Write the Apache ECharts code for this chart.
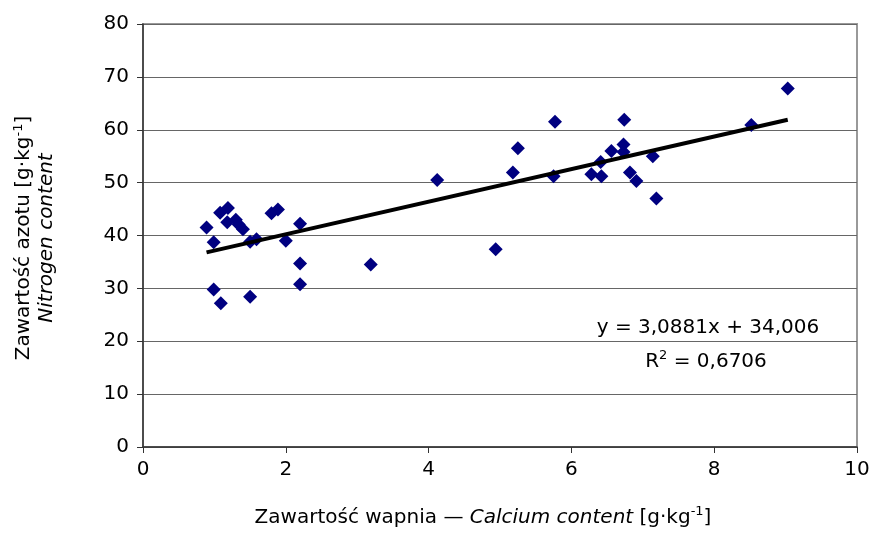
<!DOCTYPE html>
<html>
<head>
<meta charset="utf-8">
<script src="https://cdn.jsdelivr.net/npm/echarts@6/dist/echarts.min.js"></script>
<style>
  html, body { margin: 0; padding: 0; background: #fff; }
  #main { width: 873px; height: 533px; }
</style>
</head>
<body>
<div id="main"></div>
<script>
// calcium content (x) and nitrogen content (y)
const calcium = [0.89, 0.99, 1.08, 1.19, 1.18, 1.30, 1.34, 1.40, 1.50, 1.59, 1.80, 1.89, 2.00, 2.20, 2.20, 2.20, 0.99, 1.09, 1.50,
                 3.19, 4.12, 4.94, 5.18, 5.25, 5.77, 5.75, 6.28, 6.42, 6.41, 6.56, 6.73, 6.73, 6.74, 6.82, 6.91, 7.14, 7.19, 8.52, 9.03];
const nitrogen = [41.5, 38.7, 44.3, 45.2, 42.5, 43.0, 42.1, 41.2, 38.8, 39.3, 44.2, 44.9, 39.0, 42.2, 34.7, 30.8, 29.8, 27.2, 28.4,
                  34.5, 50.5, 37.4, 51.9, 56.5, 61.5, 51.2, 51.6, 51.2, 53.9, 56.0, 57.2, 55.8, 61.9, 51.9, 50.3, 55.0, 47.0, 60.9, 67.8];
// trendline end points
const trendX = [0.89, 9.03];
const trendY = [36.8, 61.9];
const equation = 'y = 3,0881x + 34,006';
const rSquared = '0,6706';

const font = 'DejaVu Sans';
const chart = echarts.init(document.getElementById('main'));

// normal / italic / superscript text styles
const txt = { fontSize: 20, fontFamily: font, color: '#000', lineHeight: 26 };
const ital = { fontSize: 20, fontFamily: font, color: '#000', lineHeight: 26, fontStyle: 'italic' };
const sup = { fontSize: 13, fontFamily: font, color: '#000', lineHeight: 12, verticalAlign: 'top' };

chart.setOption({
  animation: false,
  textStyle: { fontFamily: font },
  grid: { left: 143, right: 16, top: 24, bottom: 86, show: true, borderColor: '#999', borderWidth: 2 },
  xAxis: {
    type: 'value', min: 0, max: 10, interval: 2,
    axisLine: { lineStyle: { color: '#333', width: 1.5 } },
    axisTick: { inside: false, length: 6, lineStyle: { color: '#333' } },
    axisLabel: { color: '#000', fontSize: 20, margin: 13, fontFamily: font },
    splitLine: { show: false }
  },
  yAxis: {
    type: 'value', min: 0, max: 80, interval: 10,
    axisLine: { show: true, lineStyle: { color: '#333', width: 1.5 } },
    axisTick: { show: true, length: 6, lineStyle: { color: '#333' } },
    axisLabel: { color: '#000', fontSize: 20, margin: 14, fontFamily: font },
    splitLine: { lineStyle: { color: '#666', width: 1 } }
  },
  series: [
    {
      type: 'scatter',
      symbol: 'diamond',
      symbolSize: 14,
      itemStyle: { color: '#000080', opacity: 1 },
      data: calcium.map((x, i) => [x, nitrogen[i]]),
      z: 3
    },
    {
      type: 'line',
      symbol: 'none',
      lineStyle: { color: '#000', width: 4 },
      data: trendX.map((x, i) => [x, trendY[i]]),
      z: 4
    }
  ],
  graphic: [
    {
      type: 'text', position: [708, 318],
      style: { text: equation, font: '20px "' + font + '"', fill: '#000', align: 'center' }
    },
    {
      type: 'text', position: [706, 349],
      style: {
        text: '{a|R}{s|2}{a| = ' + rSquared + '}',
        align: 'center',
        rich: { a: txt, s: sup }
      }
    },
    {
      type: 'text', position: [483, 505],
      style: {
        text: '{a|Zawartość wapnia — }{i|Calcium content}{a| [g·kg}{s|-1}{a|]}',
        align: 'center',
        rich: { a: txt, i: ital, s: sup }
      }
    },
    {
      type: 'text', position: [12, 238], rotation: Math.PI / 2,
      style: {
        text: '{a|Zawartość azotu [g·kg}{s|-1}{a|]}\n{i|Nitrogen content}',
        align: 'center', verticalAlign: 'top',
        rich: {
          a: Object.assign({}, txt, { lineHeight: 24, align: 'center' }),
          i: Object.assign({}, ital, { lineHeight: 22, align: 'center' }),
          s: sup
        }
      }
    }
  ]
});
</script>
</body>
</html>
